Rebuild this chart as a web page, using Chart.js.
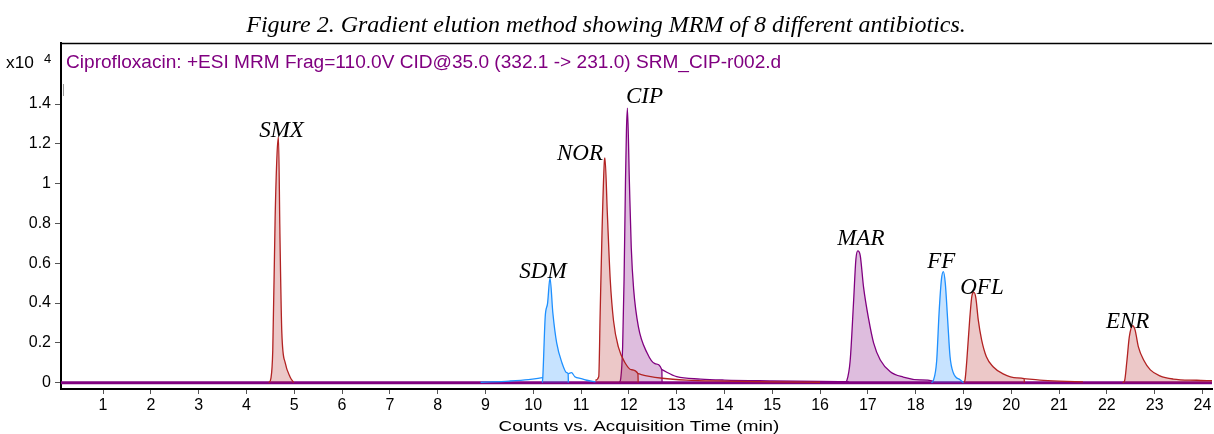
<!DOCTYPE html>
<html>
<head>
<meta charset="utf-8">
<script src="https://cdn.jsdelivr.net/npm/chart.js@4/dist/chart.umd.min.js"></script>
<style>
  html, body { margin: 0; padding: 0; background: #fff; }
  #wrap { width: 1214px; height: 434px; position: relative; }
</style>
</head>
<body>
<div id="wrap"><canvas id="myChart"></canvas></div>
<script>
var smxTime = [4.47, 4.51, 4.55, 4.60, 4.64, 4.67, 4.70, 4.74, 4.81, 4.91, 4.99]
var smxCounts = [0, 0.02, 0.16, 0.83, 1.15, 1.235, 0.75, 0.25, 0.10, 0.03, 0]

var sdmBaseTime = [8.9, 9.5, 9.9, 10.2]
var sdmBaseCounts = [0.002, 0.008, 0.015, 0.025]
var sdmTime = [10.19, 10.20, 10.25, 10.30, 10.35, 10.41, 10.49, 10.60, 10.70, 10.73, 10.735]
var sdmCounts = [0, 0.028, 0.33, 0.40, 0.526, 0.35, 0.20, 0.10, 0.05, 0.045, 0]
var sdmTailTime = [10.73, 10.80, 10.87, 11.0, 11.12, 11.3]
var sdmTailCounts = [0.045, 0.05, 0.03, 0.02, 0.012, 0.004]

var norTime = [11.30, 11.37, 11.40, 11.44, 11.49, 11.50, 11.55, 11.61, 11.68, 11.78, 11.92, 12.05, 12.19, 12.195]
var norCounts = [0.012, 0.03, 0.35, 0.77, 1.12, 1.13, 0.85, 0.52, 0.31, 0.18, 0.10, 0.065, 0.045, 0]
var norTailTime = [12.19, 12.4, 12.7, 13.2, 14, 15, 16]
var norTailCounts = [0.045, 0.033, 0.022, 0.013, 0.008, 0.004, 0.002]

var cipTime = [11.80, 11.83, 11.87, 11.90, 11.93, 11.95, 11.97, 12.01, 12.05, 12.10, 12.20, 12.38, 12.55, 12.69, 12.695]
var cipCounts = [0, 0.02, 0.18, 0.52, 1.02, 1.27, 1.38, 1.02, 0.68, 0.47, 0.28, 0.15, 0.095, 0.065, 0]
var cipTailTime = [12.69, 13.0, 13.5, 14, 15, 16, 16.6]
var cipTailCounts = [0.065, 0.03, 0.018, 0.013, 0.009, 0.006, 0.005]

var marTime = [16.52, 16.56, 16.63, 16.70, 16.75, 16.79, 16.84, 16.91, 17.02, 17.12, 17.26, 17.47, 17.74, 18.09, 18.36, 18.365]
var marCounts = [0, 0.01, 0.11, 0.40, 0.62, 0.662, 0.64, 0.48, 0.315, 0.20, 0.114, 0.055, 0.028, 0.014, 0.008, 0]

var ffTime = [18.33, 18.37, 18.44, 18.49, 18.54, 18.58, 18.62, 18.67, 18.72, 18.79, 18.93, 19.0]
var ffCounts = [0, 0.01, 0.11, 0.35, 0.52, 0.558, 0.50, 0.315, 0.13, 0.048, 0.014, 0]

var oflTime = [19.00, 19.03, 19.07, 19.13, 19.18, 19.22, 19.26, 19.31, 19.38, 19.48, 19.62, 19.83, 20.12, 20.27, 20.275]
var oflCounts = [0, 0.01, 0.11, 0.315, 0.44, 0.454, 0.425, 0.315, 0.215, 0.13, 0.08, 0.044, 0.024, 0.02, 0]
var oflTailTime = [20.27, 20.6, 21.0, 21.5]
var oflTailCounts = [0.02, 0.013, 0.008, 0.004]

var enrTime = [22.33, 22.37, 22.42, 22.47, 22.54, 22.59, 22.66, 22.77, 22.91, 23.11, 23.39, 23.88, 24.2]
var enrCounts = [0, 0.008, 0.11, 0.23, 0.286, 0.265, 0.18, 0.114, 0.064, 0.034, 0.018, 0.012, 0.01]

var baselineTime = [0, 24.5]
var baselineCounts = [0, 0]

// nomes dos antibióticos e o pico onde cada rótulo fica
var peakNames = ['SMX', 'SDM', 'NOR', 'CIP', 'MAR', 'FF', 'OFL', 'ENR']
var peakApexTime = [4.67, 10.35, 11.50, 11.97, 16.79, 18.58, 19.22, 22.54]
var peakApexCounts = [1.235, 0.526, 1.13, 1.38, 0.662, 0.558, 0.454, 0.286]
var labelShift = [[3, 0], [-7, 0], [-25, 2], [17, -5], [3, -6], [-2, -4], [8, 2], [-5, 2]]

var yTicks = [0, 0.2, 0.4, 0.6, 0.8, 1, 1.2, 1.4]
var xTicks = [1, 2, 3, 4, 5, 6, 7, 8, 9, 10, 11, 12, 13, 14, 15, 16, 17, 18, 19, 20, 21, 22, 23, 24]

var vermelho = 'rgb(178, 34, 34)'
var vermelhoFundo = 'rgba(178, 34, 34, 0.25)'
var roxo = 'rgb(128, 0, 128)'
var roxoFundo = 'rgba(128, 0, 128, 0.26)'
var azul = 'rgb(30, 144, 255)'
var azulFundo = 'rgba(30, 144, 255, 0.25)'

function juntar(tempos, contagens) {
    var pontos = []
    for (var i = 0; i < tempos.length; i++) {
        pontos.push({ x: tempos[i], y: contagens[i] })
    }
    return pontos
}

function pico(tempos, contagens, cor, fundo) {
    return {
        data: juntar(tempos, contagens),
        borderColor: cor,
        borderWidth: 1.3,
        backgroundColor: fundo || 'transparent',
        fill: fundo ? 'origin' : false,
        pointRadius: 0,
        cubicInterpolationMode: 'monotone'
    }
}

var datasets = [
    pico(sdmBaseTime, sdmBaseCounts, azul),
    pico(sdmTime, sdmCounts, azul, azulFundo),
    pico(sdmTailTime, sdmTailCounts, azul),
    pico(ffTime, ffCounts, azul, azulFundo),
    pico(smxTime, smxCounts, vermelho, vermelhoFundo),
    pico(norTime, norCounts, vermelho, vermelhoFundo),
    pico(norTailTime, norTailCounts, vermelho),
    pico(oflTime, oflCounts, vermelho, vermelhoFundo),
    pico(oflTailTime, oflTailCounts, vermelho),
    pico(enrTime, enrCounts, vermelho, vermelhoFundo),
    pico(cipTime, cipCounts, roxo, roxoFundo),
    pico(cipTailTime, cipTailCounts, roxo),
    pico(marTime, marCounts, roxo, roxoFundo),
    pico(baselineTime, baselineCounts, roxo)
]
datasets[datasets.length - 1].borderWidth = 3

// texto esticado na horizontal (a figura original foi alargada)
function textoLargo(ctx, texto, x, y, largura) {
    ctx.save()
    ctx.translate(x, y)
    ctx.scale(largura, 1)
    ctx.fillText(texto, 0, 0)
    ctx.restore()
}

// textos extras: título da figura, escala x10^4, cabeçalho do traço e rótulos dos picos
var textos = {
    id: 'textos',
    afterDraw: function (chart) {
        var ctx = chart.ctx
        var area = chart.chartArea
        var sx = chart.scales.x
        var sy = chart.scales.y
        ctx.save()

        ctx.strokeStyle = '#000'
        ctx.lineWidth = 1.5
        ctx.beginPath()
        ctx.moveTo(area.left, area.top + 0.5)
        ctx.lineTo(area.right, area.top + 0.5)
        ctx.stroke()

        ctx.strokeStyle = '#999'
        ctx.lineWidth = 1
        ctx.beginPath()
        ctx.moveTo(area.left + 2.5, 84)
        ctx.lineTo(area.left + 2.5, 96)
        ctx.stroke()

        ctx.fillStyle = '#000'
        ctx.textBaseline = 'alphabetic'
        ctx.textAlign = 'center'
        ctx.font = 'italic 24px "Liberation Serif"'
        ctx.fillText('Figure 2. Gradient elution method showing MRM of 8 different antibiotics.', 606, 32)

        ctx.textAlign = 'left'
        ctx.font = '16px "Liberation Sans"'
        textoLargo(ctx, 'x10', 6, 68, 1.08)
        ctx.font = '13px "Liberation Sans"'
        ctx.fillText('4', 44, 63)

        ctx.fillStyle = roxo
        ctx.font = '18px "Liberation Sans"'
        textoLargo(ctx, 'Ciprofloxacin: +ESI MRM Frag=110.0V CID@35.0 (332.1 -> 231.0) SRM_CIP-r002.d', 66, 68, 1.06)

        ctx.fillStyle = '#000'
        ctx.textAlign = 'center'
        ctx.font = '15px "Liberation Sans"'
        textoLargo(ctx, 'Counts vs. Acquisition Time (min)', 639, 431, 1.26)

        ctx.font = 'italic 23px "Liberation Serif"'
        for (var i = 0; i < peakNames.length; i++) {
            var px = sx.getPixelForValue(peakApexTime[i]) + labelShift[i][0]
            var py = sy.getPixelForValue(peakApexCounts[i]) + labelShift[i][1]
            ctx.fillText(peakNames[i], px, py)
        }
        ctx.restore()
    }
}

const ctx = document.getElementById('myChart')

var grafico = new Chart(ctx, {
    type: 'line',
    data: { datasets: datasets },
    options: {
        responsive: true,
        maintainAspectRatio: false,
        animation: false,
        layout: { padding: { top: 43, right: 2, left: 0, bottom: 0 } },
        plugins: {
            legend: { display: false },
            tooltip: { enabled: false },
            title: { display: false }
        },
        scales: {
            x: {
                type: 'linear',
                min: 0.12,
                max: 24.2,
                afterFit: function (scale) { scale.height = 45 },
                afterBuildTicks: function (scale) {
                    scale.ticks = xTicks.map(function (v) { return { value: v } })
                },
                ticks: {
                    color: '#000',
                    font: { family: 'Liberation Sans', size: 16 },
                    padding: 2,
                    maxRotation: 0,
                    autoSkip: false
                },
                grid: { drawOnChartArea: false, drawTicks: true, tickLength: 5, color: '#555' },
                border: { display: true, color: '#000', width: 2 }
            },
            y: {
                min: -0.032,
                max: 1.707,
                afterFit: function (scale) { scale.width = 61 },
                afterBuildTicks: function (scale) {
                    scale.ticks = yTicks.map(function (v) { return { value: v } })
                },
                ticks: {
                    color: '#000',
                    font: { family: 'Liberation Sans', size: 16 },
                    padding: 4,
                    callback: function (v) { return String(v) }
                },
                grid: { drawOnChartArea: false, drawTicks: true, tickLength: 6, color: '#555' },
                border: { display: true, color: '#000', width: 2 }
            }
        }
    },
    plugins: [textos]
});
</script>
</body>
</html>
